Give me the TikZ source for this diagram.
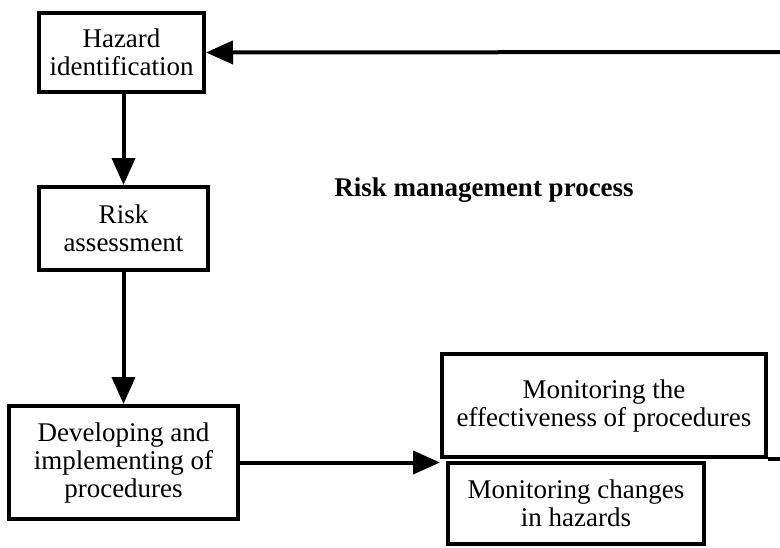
\documentclass[tikz,border=0pt]{standalone}
\usepackage{fontspec}
\setmainfont{Liberation Serif}
\usetikzlibrary{arrows.meta}
\begin{document}
\begin{tikzpicture}[x=1pt,y=-1pt,
  box/.style={draw, line width=4pt, fill=white, align=center, inner sep=0pt,
    font=\fontsize{27}{28}\selectfont},
  conn/.style={line width=4pt, -{Triangle[length=27pt,width=23pt]}},
  plain/.style={line width=4pt}]
\useasboundingbox[fill=white] (0,0) rectangle (780,547);
\node[box, minimum width=165pt, minimum height=79pt] (haz) at (121.5,52.5) {Hazard\\identification};
\node[box, minimum width=169pt, minimum height=83pt] (risk) at (123.5,228.5) {Risk\\assessment};
\node[box, minimum width=229pt, minimum height=113pt] (dev) at (123.5,462.5) {Developing and\\implementing of\\procedures};
\node[box, minimum width=256pt, minimum height=81pt] (chg) at (576,503.5) {Monitoring changes\\in hazards};
\node[box, minimum width=324pt, minimum height=103pt] (eff) at (604,405.5) {Monitoring the\\effectiveness of procedures};
\node[font=\fontsize{27}{30}\bfseries\selectfont, inner sep=0pt] (title) at (484,190) {Risk management process};
\coordinate (rtop) at (780,52);
\coordinate (rbot) at (780,458);
\draw[conn] (rtop) -- (haz.east);
\draw[conn] (risk.north |- haz.south) -- (risk.north);
\draw[conn] (risk.south) -- (dev.north);
\draw[conn] (dev.east) -- (eff.south west |- dev.east);
\draw[plain] (eff.south east) -- (eff.south east -| rbot);
\end{tikzpicture}
\end{document}
